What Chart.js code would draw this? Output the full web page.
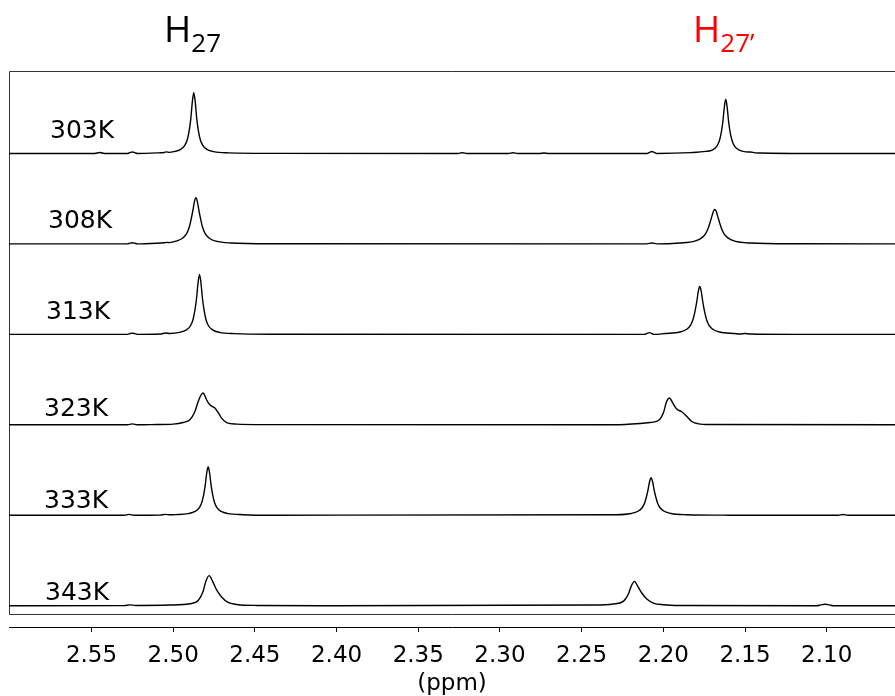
<!DOCTYPE html>
<html>
<head>
<meta charset="utf-8">
<title>VT 1H NMR - H27 / H27'</title>
<script src="https://cdn.jsdelivr.net/npm/chart.js@4.4.1/dist/chart.umd.min.js"></script>
<style>
  html, body { margin: 0; padding: 0; background: #fff; }
  #wrap { width: 895px; height: 696px; }
</style>
</head>
<body>
<div id="wrap"><canvas id="nmrChart" width="895" height="696"></canvas></div>
<script>
// temperatures, top trace first
const temps = ['303K', '308K', '313K', '323K', '333K', '343K'];

// ppm ticks along the bottom axis
const tickValues = [2.55, 2.50, 2.45, 2.40, 2.35, 2.30, 2.25, 2.20, 2.15, 2.10];

// [ppm, intensity] (intensity above its own baseline)
const s303 = [
    [2.61, 0], [2.548, 0], [2.545, 0.9], [2.542, 0],
    [2.528, 0], [2.5265, 0.8], [2.525, 1.4], [2.5235, 0.8], [2.522, 0],
    [2.5088, 0.6], [2.5055, 0.9], [2.504, 1.6], [2.5025, 1.1],
    [2.4996, 1.8], [2.4954, 4.1], [2.4929, 8.0], [2.4914, 13.6], [2.4902, 22.8], [2.4892, 34.9], [2.4883, 51.2],
    [2.4874, 60.6],
    [2.4865, 51.2], [2.4856, 34.9], [2.4846, 22.8], [2.4834, 13.6], [2.4819, 8.0], [2.4794, 4.1], [2.4752, 1.8], [2.4660, 0.6],
    [2.440, 0.1], [2.326, 0], [2.323, 0.7], [2.320, 0], [2.295, 0], [2.292, 0.7], [2.289, 0],
    [2.276, 0], [2.273, 0.5], [2.270, 0],
    [2.210, 0], [2.2085, 1.1], [2.207, 1.9], [2.2055, 1.1], [2.204, 0],
    [2.1832, 0.8], [2.1740, 2.0], [2.1698, 3.6], [2.1673, 7.1], [2.1658, 12.1], [2.1646, 20.3], [2.1636, 31.1], [2.1627, 45.6],
    [2.1618, 54],
    [2.1609, 45.6], [2.1600, 31.1], [2.1590, 20.3], [2.1578, 12.1], [2.1563, 7.1], [2.1538, 3.6], [2.1496, 1.6],
    [2.1465, 1.4], [2.1440, 0.6], [2.1404, 0.4], [2.120, 0], [2.05, 0]
];
const s308 = [
    [2.61, 0], [2.528, 0], [2.5265, 0.7], [2.525, 1.1], [2.5235, 0.7], [2.522, 0],
    [2.5075, 0.9], [2.5055, 1.1], [2.504, 1.5], [2.5025, 1.3],
    [2.4983, 2.7], [2.4941, 5.9], [2.4916, 10.8], [2.4901, 17.1], [2.4889, 25.4], [2.4879, 33.8], [2.4870, 42.2],
    [2.4861, 46],
    [2.4852, 42.2], [2.4843, 33.8], [2.4833, 25.4], [2.4821, 17.1], [2.4806, 10.8], [2.4781, 5.9], [2.4739, 2.7], [2.4647, 0.9],
    [2.440, 0.2], [2.210, 0], [2.207, 0.9], [2.204, 0],
    [2.1899, 0.9], [2.1807, 2.8], [2.1765, 6.0], [2.1740, 10.6], [2.1725, 15.9], [2.1713, 21.9], [2.1703, 27.4], [2.1694, 32.3],
    [2.1685, 34.3],
    [2.1676, 32.3], [2.1667, 27.4], [2.1657, 21.9], [2.1645, 15.9], [2.1630, 10.6], [2.1605, 6.0], [2.1563, 2.8], [2.1471, 0.9],
    [2.120, 0.1], [2.05, 0]
];
const s313 = [
    [2.61, 0], [2.528, 0], [2.5265, 0.7], [2.525, 1.2], [2.5235, 0.7], [2.522, 0],
    [2.508, 0.3], [2.5045, 1.4], [2.5020, 0.9],
    [2.4961, 2.0], [2.4919, 4.5], [2.4894, 8.6], [2.4879, 14.6], [2.4867, 24.1], [2.4857, 36.0], [2.4848, 51.3],
    [2.4839, 59.7],
    [2.4830, 51.3], [2.4821, 36.0], [2.4811, 24.1], [2.4799, 14.6], [2.4784, 8.6], [2.4759, 4.5], [2.4717, 2.0], [2.4625, 0.7],
    [2.440, 0.1], [2.2115, 0], [2.2100, 1.0], [2.2086, 1.7], [2.2072, 1.0], [2.2057, 0],
    [2.1991, 0.8], [2.1899, 2.3], [2.1857, 5.1], [2.1832, 9.5], [2.1817, 15.5], [2.1805, 23.9], [2.1795, 33.0], [2.1786, 42.9],
    [2.1777, 47.7],
    [2.1768, 42.9], [2.1759, 33.0], [2.1749, 23.9], [2.1737, 15.5], [2.1722, 9.5], [2.1697, 5.1], [2.1655, 2.3], [2.1563, 0.8],
    [2.1530, 0.4], [2.1500, 0.8], [2.1470, 0.3], [2.120, 0], [2.05, 0]
];
const s323 = [
    [2.61, 0], [2.528, 0], [2.525, 0.9], [2.522, 0],
    [2.5100, 0.3], [2.5000, 0.7], [2.4939, 2.3], [2.4898, 5], [2.4867, 13.3], [2.4847, 23.3], [2.4832, 29],
    [2.4817, 31.7],
    [2.4806, 29], [2.4796, 25], [2.4776, 20], [2.4745, 16.7], [2.4725, 12.3], [2.4704, 6.7], [2.4673, 2.3], [2.4612, 0.7],
    [2.4450, 0.2], [2.2300, 0],
    [2.2142, 1.3], [2.2081, 2.3], [2.2030, 4.3], [2.1999, 12.3], [2.1983, 21.7], [2.1973, 25.3],
    [2.1963, 26.7],
    [2.1953, 25], [2.1942, 21.7], [2.1918, 15.7], [2.1887, 13], [2.1856, 8.3], [2.1826, 3.3], [2.1785, 1], [2.1714, 0.3],
    [2.05, 0]
];
const s333 = [
    [2.61, 0], [2.530, 0], [2.527, 0.9], [2.524, 0],
    [2.508, 0.2], [2.505, 0.9], [2.502, 0.5],
    [2.4985, 0.7], [2.4908, 1.7], [2.4866, 3.8], [2.4841, 7.3], [2.4826, 12.3], [2.4814, 20.1], [2.4804, 29.8], [2.4795, 41.9],
    [2.4786, 48.4],
    [2.4777, 41.9], [2.4768, 29.8], [2.4758, 20.1], [2.4746, 12.3], [2.4731, 7.3], [2.4706, 3.8], [2.4664, 1.7], [2.4572, 0.6],
    [2.440, 0.1],
    [2.2289, 0.6], [2.2197, 1.8], [2.2155, 4.0], [2.2130, 7.5], [2.2115, 12.1], [2.2103, 18.7], [2.2093, 25.9], [2.2084, 33.7],
    [2.2075, 37.4],
    [2.2066, 33.7], [2.2057, 25.9], [2.2047, 18.7], [2.2035, 12.1], [2.2020, 7.5], [2.1995, 4.0], [2.1953, 1.8], [2.1861, 0.6],
    [2.160, 0.1], [2.093, 0], [2.090, 0.8], [2.087, 0], [2.05, 0]
];
const s343 = [
    [2.61, 0], [2.530, 0.1], [2.5265, 0.9], [2.523, 0.3],
    [2.5021, 0.7], [2.4898, 2], [2.4847, 5.3], [2.4817, 14.3], [2.4800, 24.3],
    [2.4780, 30],
    [2.4759, 24.3], [2.4735, 16], [2.4704, 8.7], [2.4664, 3.3], [2.4612, 1.3], [2.4490, 0.3],
    [2.400, 0],
    [2.2428, 0.7], [2.2306, 1.7], [2.2245, 4.3], [2.2214, 11.7], [2.2197, 19.3],
    [2.2177, 24.3],
    [2.2156, 19.3], [2.2132, 12.7], [2.2101, 6.7], [2.2061, 2.7], [2.1999, 1], [2.1897, 0.3],
    [2.106, 0], [2.1035, 0.9], [2.1010, 1.5], [2.0985, 0.9], [2.096, 0], [2.05, 0]
];

const spectra = [s303, s308, s313, s323, s333, s343];

// where the temperature captions sit (px)
const captionSpots = [[50, 138], [48, 228], [46, 319], [44, 416], [44, 508], [45, 600]];

function drawSubLabel(ctx, main, sub, x, y, color) {
    ctx.fillStyle = color;
    ctx.font = '37px "Open Sans"';
    ctx.fillText(main, x, y);
    const w = ctx.measureText(main).width;
    ctx.font = '26px "Open Sans"';
    ctx.fillText(sub, x + w, y + 10);
}

const framePlugin = {
    id: 'frame',
    beforeDatasetsDraw(chart) {
        const { ctx, chartArea } = chart;
        const top = Math.round(chartArea.top) + 0.5;
        const left = Math.round(chartArea.left) + 0.5;
        const bottom = Math.round(chart.scales.gap.top) + 0.5;
        ctx.save();
        ctx.strokeStyle = '#333';
        ctx.lineWidth = 1;
        ctx.beginPath();
        ctx.moveTo(chartArea.right, top);
        ctx.lineTo(left, top);
        ctx.lineTo(left, bottom);
        ctx.lineTo(chartArea.right, bottom);
        ctx.stroke();
        ctx.restore();
    }
};

const captionPlugin = {
    id: 'captions',
    afterDraw(chart) {
        const ctx = chart.ctx;
        ctx.save();
        ctx.textAlign = 'left';
        ctx.textBaseline = 'alphabetic';
        ctx.fillStyle = '#000';
        ctx.font = '25px "DejaVu Sans"';
        temps.forEach((t, i) => ctx.fillText(t, captionSpots[i][0], captionSpots[i][1]));
        drawSubLabel(ctx, 'H', '27', 164, 42, '#000');
        drawSubLabel(ctx, 'H', '27\u2019', 693, 42, '#ff0000');
        ctx.restore();
    }
};

const scales = {
    x: {
        type: 'linear',
        position: 'bottom',
        reverse: true,
        min: 2.0582,
        max: 2.6005,
        afterBuildTicks: (axis) => { axis.ticks = tickValues.map(v => ({ value: v })); },
        afterFit: (axis) => { axis.height = 69; },
        ticks: {
            callback: (v) => Number(v).toFixed(2),
            color: '#000',
            font: { family: 'DejaVu Sans', size: 23 },
            padding: 10,
            maxRotation: 0,
            autoSkip: false
        },
        grid: { drawOnChartArea: false, drawTicks: true, tickLength: 5, color: '#000' },
        border: { display: true, color: '#000', width: 1 },
        title: {
            display: true,
            text: '(ppm)',
            color: '#000',
            font: { family: 'DejaVu Sans', size: 23, lineHeight: 1.0 },
            padding: { top: 0, bottom: 0 }
        }
    }
};
temps.forEach((t, i) => {
    scales['y' + i] = {
        type: 'linear', axis: 'y', position: 'left', display: false,
        stack: 'nmr', stackWeight: 90.2, weight: 10 - i,
        min: -8, max: 82.2
    };
});
scales.gap = {
    type: 'linear', axis: 'y', position: 'left', display: false,
    stack: 'nmr', stackWeight: 13.2, weight: 0, min: 0, max: 1
};

const datasets = spectra.map((pts, i) => ({
    label: temps[i],
    data: pts.map(([x, y]) => ({ x, y })),
    yAxisID: 'y' + i,
    xAxisID: 'x',
    borderColor: '#000',
    borderWidth: 1.4,
    pointRadius: 0,
    fill: false,
    cubicInterpolationMode: 'monotone'
}));

new Chart(document.getElementById('nmrChart').getContext('2d'), {
    type: 'line',
    data: { datasets },
    options: {
        responsive: false,
        animation: false,
        layout: { padding: { top: 71, left: 9, right: 0, bottom: 0 } },
        plugins: { legend: { display: false }, tooltip: { enabled: false } },
        scales
    },
    plugins: [framePlugin, captionPlugin]
});
</script>
</body>
</html>
